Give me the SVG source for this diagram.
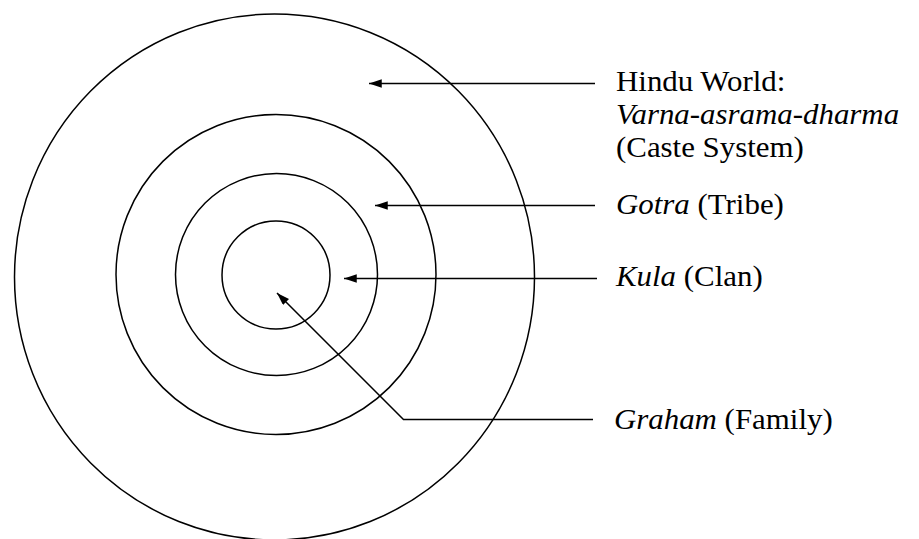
<svg xmlns="http://www.w3.org/2000/svg" width="919" height="539" viewBox="0 0 919 539">
<style>
.ring{fill:none;stroke:#000;stroke-width:1.5}
.conn{fill:none;stroke:#000;stroke-width:1.5;marker-end:url(#ah)}
.lbl{font-family:"Liberation Serif","Times New Roman",serif;font-size:30px;fill:#000}
.it{font-style:italic}
</style>
<defs>
<marker id="ah" markerUnits="userSpaceOnUse" viewBox="0 0 12 8" refX="12" refY="4" markerWidth="13" markerHeight="8.5" orient="auto">
<path d="M0,0 L12,4 L0,8 z" fill="#000"/>
</marker>
</defs>
<rect width="919" height="539" fill="#fff"/>
<g id="hindu-world">
<ellipse class="ring" cx="274.5" cy="277" rx="260" ry="263"/>
</g>
<g id="gotra">
<circle class="ring" cx="276" cy="274.5" r="160"/>
</g>
<g id="kula">
<circle class="ring" cx="276.5" cy="274.5" r="101"/>
</g>
<g id="graham">
<circle class="ring" cx="276" cy="275" r="54"/>
</g>
<g id="connectors">
<line class="conn" x1="595" y1="83.5" x2="369" y2="83.5"/>
<line class="conn" x1="595" y1="205.5" x2="375" y2="205.5"/>
<line class="conn" x1="597" y1="278.5" x2="344" y2="278.5"/>
<polyline class="conn" points="593,419.5 403.5,419.5 277,293"/>
</g>
<g id="labels" class="lbl">
<g transform="translate(616,0) scale(1.03,1)">
<text x="0" y="91">Hindu World:</text>
<text x="0" y="124" class="it">Varna-asrama-dharma</text>
<text x="0" y="157">(Caste System)</text>
<text x="0" y="214"><tspan class="it">Gotra</tspan> (Tribe)</text>
<text x="0" y="286"><tspan class="it">Kula</tspan> (Clan)</text>
<text x="-2" y="429"><tspan class="it">Graham</tspan> (Family)</text>
</g>
</g>
</svg>
